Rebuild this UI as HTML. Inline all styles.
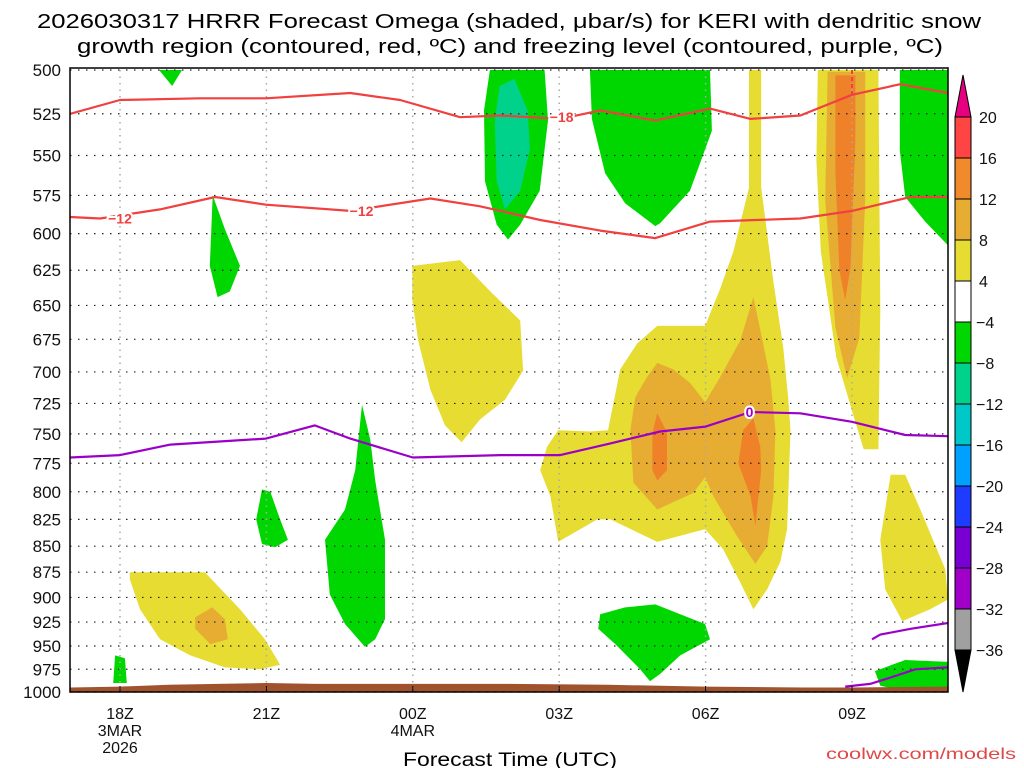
<!DOCTYPE html>
<html><head><meta charset="utf-8"><style>
html,body{margin:0;padding:0;background:#fff;}
svg{display:block;font-family:"Liberation Sans",sans-serif;}
</style></head><body>
<svg id="chart" width="1024" height="768" viewBox="0 0 1024 768" xmlns="http://www.w3.org/2000/svg">
<defs><clipPath id="plotclip"><rect x="70" y="68" width="878" height="624"/></clipPath></defs>
<rect x="0" y="0" width="1024" height="768" fill="#fff"/>
<text x="509" y="28" font-size="20" text-anchor="middle" textLength="944" lengthAdjust="spacingAndGlyphs">2026030317 HRRR Forecast Omega (shaded, μbar/s) for KERI with dendritic snow</text>
<text x="510" y="53" font-size="20" text-anchor="middle" textLength="866" lengthAdjust="spacingAndGlyphs">growth region (contoured, red, ºC) and freezing level (contoured, purple, ºC)</text>
<g id="fills" clip-path="url(#plotclip)"></g>
<g id="grid"></g>
<g id="contours" clip-path="url(#plotclip)"></g>
<g id="axes"></g>
<g id="cbar"></g>
<text x="510" y="766" font-size="19" text-anchor="middle" textLength="214" lengthAdjust="spacingAndGlyphs">Forecast Time (UTC)</text>
<text x="826" y="759" font-size="16" fill="#e04848" textLength="190" lengthAdjust="spacingAndGlyphs">coolwx.com/models</text>
</svg>
<script>
// ---- data ----
const pressureTicks=[500,525,550,575,600,625,650,675,700,725,750,775,800,825,850,875,900,925,950,975,1000];
const timeTickHours=[18,21,24,27,30,33];
const timeTickLabels=[["18Z","3MAR","2026"],["21Z"],["00Z","4MAR"],["03Z"],["06Z"],["09Z"]];
const cbarLevels=[20,16,12,8,4,-4,-8,-12,-16,-20,-24,-28,-32,-36];
const cbarColors=["#ff4444","#f08a2a","#e6ad32","#e6dc32","#ffffff","#00d700","#00d28c","#00c8c8","#00a0ff","#1e3cff","#7800d2","#a000c8","#a0a0a0"];
// shaded omega regions: [hour, hPa] pairs
const yellowBig=[[30.89,500],[31.14,500],[31.14,570],[31.39,633],[31.59,681],[31.69,720],[31.74,747],[31.67,834],[31.53,865],[31.26,892],[30.98,912],[30.71,885],[30.36,853],[29.99,834],[29.01,846],[28.05,825],[27.78,825],[26.98,846],[26.82,804],[26.61,781],[26.75,761],[26.98,747],[27.64,748],[28.0,747],[28.25,698],[28.6,678],[29.01,665],[29.99,665],[30.3,638],[30.57,612],[30.89,570]];
const darkBig=[[30.98,644],[31.12,668],[31.33,706],[31.43,747],[31.39,804],[31.26,850],[31.02,867],[30.65,841],[30.16,804],[29.99,787],[29.75,801],[29.01,816],[28.52,792],[28.46,747],[28.56,720],[28.8,704],[29.01,693],[29.34,698],[29.69,709],[29.99,724],[30.3,704],[30.71,676]];
const orangeLeft=[[29.01,733],[29.21,749],[29.21,781],[29.01,790],[28.91,781],[28.91,749]];
const orangeRight=[[30.98,737],[31.12,761],[31.14,781],[31.02,831],[30.92,804],[30.67,775],[30.77,747]];
const yellowMid=[[23.99,622],[24.97,618],[25.59,640],[26.2,661],[26.26,699],[25.89,722],[25.38,738],[25.0,757],[24.66,743],[24.36,714],[24.11,676],[23.99,646]];
const yellow09=[[32.3,500],[33.54,500],[33.58,653],[33.54,763],[33.24,763],[33.03,735],[32.68,689],[32.36,612],[32.27,553]];
const dark09=[[32.5,501],[33.27,501],[33.27,578],[33.15,674],[32.9,705],[32.66,666],[32.45,578]];
const orange09=[[32.66,503],[33.07,503],[33.07,540],[32.97,623],[32.86,646],[32.74,625],[32.66,560]];
const yellowRight=[[33.79,785],[34.09,785],[34.4,816],[34.91,872],[34.97,902],[34.6,912],[34.03,924],[33.68,892],[33.58,844]];
const yellowLow=[[18.2,875],[19.74,875],[20.46,912],[20.97,943],[21.28,970],[20.87,975],[20.15,973],[19.44,960],[18.82,943],[18.41,912],[18.2,882]];
const orangeLow=[[19.54,920],[19.89,910],[20.15,922],[20.21,943],[19.85,948],[19.54,932]];
const greenTopLeft=[[18.8,500],[19.27,500],[19.07,509]];
const green20=[[19.9,575],[20.15,597],[20.46,622],[20.25,640],[20.0,644],[19.84,622]];
const greenMidTop=[[25.58,500],[26.7,500],[26.77,529],[26.6,572],[26.2,594],[25.95,604],[25.72,594],[25.48,566],[25.46,523]];
const tealMidTop=[[25.78,509],[26.08,505],[26.35,523],[26.4,546],[26.2,572],[25.89,584],[25.72,566],[25.68,529]];
const greenTop04=[[27.63,500],[30.09,500],[30.13,535],[29.68,572],[29.07,593],[28.97,595],[28.35,580],[27.94,561],[27.67,528]];
const greenTopRight=[[33.98,500],[34.97,500],[34.97,608],[34.5,592],[34.09,576],[33.98,547]];
const green18=[[17.9,960],[18.1,963],[18.14,990],[17.86,990]];
const green21=[[20.91,798],[21.08,800],[21.28,825],[21.44,844],[21.18,851],[20.91,848],[20.79,825]];
const green23=[[22.96,726],[23.13,755],[23.23,790],[23.43,844],[23.43,922],[23.23,943],[23.02,951],[22.61,927],[22.3,897],[22.2,844],[22.61,816],[22.82,781]];
const greenLowMid=[[27.84,917],[28.35,910],[28.97,907],[29.48,917],[29.99,927],[30.09,943],[29.48,960],[29.07,980],[28.86,988],[28.66,975],[28.15,948],[27.8,932]];
const greenLowRight=[[33.47,977],[34.09,965],[34.97,967],[34.97,996],[33.99,998],[33.58,993]];
const sfcHours=[16.9,18,19,20,21,22,24,26,28,30,32,33,35.1];
const sfcPressure=[995,994,992,991,990,991,991,991,992,994,995,995,994];
// contour lines
const lineHours=[16.98,18,19.64,20.99,22.72,23.74,24.97,25.79,27.02,27.84,28.97,30.09,30.92,31.94,33.0,33.99,34.97];
const minus18P=[525,517,516,516,513,517,527,526,528,523,529,522,528,526,514,508,513];
const minus12Hours=[16.98,17.59,18.82,19.95,20.99,22.72,24.36,25.38,26.61,27.84,28.97,30.09,31.94,33.0,34.2,34.97];
const minus12P=[589,590,584,576,581,585,577,582,591,598,603,592,590,585,576,576];
const zeroHours=[16.98,18,19.03,20.99,21.99,22.72,24.0,25.79,27.02,28.05,29.07,30.0,30.92,31.94,33.0,34.09,34.97];
const zeroP=[770,768,759,754,743,754,770,768,768,758,748,744,732,733,740,751,752];
const zeroBHours=[33.41,33.58,34.2,34.97];
const zeroBP=[943,938,932,926];
const zeroCHours=[32.86,33.37,33.79,34.3,34.97];
const zeroCP=[994,991,984,975,973];

// ---- axis functions ----
const X0=70,X1=948,Y0=70,Y1=692;
function xS(h){return 120+(h-18)*48.8;}
function yS(p){return Y1-Math.log(1000/p)/Math.log(2)*(Y1-Y0);}
const NS="http://www.w3.org/2000/svg";
function mk(tag,attrs,parent){const e=document.createElementNS(NS,tag);for(const k in attrs)e.setAttribute(k,attrs[k]);parent.appendChild(e);return e;}
function pts(arr){return arr.map(d=>xS(d[0]).toFixed(1)+","+yS(d[1]).toFixed(1)).join(" ");}
const fills=document.getElementById('fills');
function poly(arr,color,name){const e=mk('polygon',{points:pts(arr),fill:color},fills);

}
const YEL="#e6dc32",DRK="#e6ad32",ORG="#ef8228",GRN="#00d700",TEAL="#00d28c";
poly(yellowBig,YEL,'omega-4-8-main');
poly(darkBig,DRK,'omega-8-12-main');
poly(orangeLeft,ORG,'omega-12-16-left');
poly(orangeRight,ORG,'omega-12-16-right');
poly(yellowMid,YEL,'omega-4-8-mid');
poly(yellow09,YEL,'omega-4-8-09z');
poly(dark09,DRK,'omega-8-12-09z');
poly(orange09,ORG,'omega-12-16-09z');
poly(yellowRight,YEL,'omega-4-8-right');
poly(yellowLow,YEL,'omega-4-8-low');
poly(orangeLow,DRK,'omega-8-12-low');
poly(greenTopLeft,GRN,'omega-neg-top-left');
poly(green20,GRN,'omega-neg-20z');
poly(greenMidTop,GRN,'omega-neg-mid-top');
poly(tealMidTop,TEAL,'omega-neg8-mid-top');
poly(greenTop04,GRN,'omega-neg-04z');
poly(greenTopRight,GRN,'omega-neg-top-right');
poly(green18,GRN,'omega-neg-18z');
poly(green21,GRN,'omega-neg-21z');
poly(green23,GRN,'omega-neg-23z');
poly(greenLowMid,GRN,'omega-neg-low-mid');
poly(greenLowRight,GRN,'omega-neg-low-right');
// terrain
const ter=[];sfcHours.forEach((h,i)=>ter.push([h,sfcPressure[i]]));ter.push([35.1,1000]);ter.push([16.9,1000]);
const terEl=mk('polygon',{points:pts(ter),fill:"#a0522d"},fills);



// grid
const grid=document.getElementById('grid');
pressureTicks.forEach(p=>{const l=mk('line',{x1:X0,x2:X1,y1:yS(p),y2:yS(p),stroke:"#222","stroke-width":1.2,"stroke-dasharray":"1.5 6.5"},grid);

});
timeTickHours.forEach(h=>{const l=mk('line',{x1:xS(h),x2:xS(h),y1:Y0,y2:Y1,stroke:"#aaa","stroke-width":1.5,"stroke-dasharray":"1.5 5"},grid);

});

// contours
const cont=document.getElementById('contours');
function line(hs,ps,color,name){const a=hs.map((h,i)=>[h,ps[i]]);const e=mk('polyline',{points:pts(a),fill:"none",stroke:color,"stroke-width":2.2,"stroke-linejoin":"round"},cont);

}
const RED="#f04040",PUR="#9b00c8";
line(lineHours,minus18P,RED,'minus18-contour');
line(minus12Hours,minus12P,RED,'minus12-contour');
line(zeroHours,zeroP,PUR,'freezing-level-contour');
line(zeroBHours,zeroBP,PUR,'freezing-level-contour-low');
line(zeroCHours,zeroCP,PUR,'freezing-level-contour-sfc');
const dash=mk('line',{x1:xS(33),x2:xS(33),y1:yS(500),y2:yS(514),stroke:RED,"stroke-width":2,"stroke-dasharray":"4 3"},cont);


function clabel(h,p,txt,color,name){const g=mk('text',{x:xS(h),y:yS(p)+5,"font-size":14,"font-weight":"bold",fill:color,"text-anchor":"middle",stroke:"#fff","stroke-width":4,"paint-order":"stroke"},cont);g.textContent=txt;

}
clabel(18.0,590,"−12",RED,'contour-label-minus12-a');
clabel(22.95,585,"−12",RED,'contour-label-minus12-b');
clabel(27.05,527,"−18",RED,'contour-label-minus18');
clabel(30.9,732,"0",PUR,'contour-label-zero');

// axes
const ax=document.getElementById('axes');
const fr=mk('rect',{x:X0,y:Y0-2,width:X1-X0,height:Y1-Y0+2,fill:"none",stroke:"#000","stroke-width":1.5},ax);


pressureTicks.forEach(p=>{const t=mk('text',{x:61,y:yS(p)+6,"font-size":17,"text-anchor":"end",fill:"#111"},ax);t.textContent=p;

});
timeTickHours.forEach((h,i)=>{timeTickLabels[i].forEach((s,j)=>{const t=mk('text',{x:xS(h),y:719+j*17,"font-size":16,"text-anchor":"middle",fill:"#111"},ax);t.textContent=s;

});
const tk=mk('line',{x1:xS(h),x2:xS(h),y1:Y1,y2:Y1-6,stroke:"#000"},ax);

});

// colorbar
const cb=document.getElementById('cbar');
const CX=955,CW=16,CT=117,CH=41;
const yC=i=>CT+i*CH;
cbarColors.forEach((c,i)=>{const r=mk('rect',{x:CX,y:yC(i),width:CW,height:CH,fill:c,stroke:"#000","stroke-width":1},cb);

});
const tt=mk('polygon',{points:`${CX},${yC(0)} ${CX+CW},${yC(0)} ${CX+CW/2},${yC(0)-42}`,fill:"#e6007f",stroke:"#000"},cb);


const tb=mk('polygon',{points:`${CX},${yC(13)} ${CX+CW},${yC(13)} ${CX+CW/2},${yC(13)+42}`,fill:"#000",stroke:"#000"},cb);


cbarLevels.forEach((v,i)=>{const t=mk('text',{x:v<0?976:979,y:yC(i)+6,"font-size":16,fill:"#111"},cb);t.textContent=v<0?"−"+(-v):String(v);

});
</script>
</body></html>
